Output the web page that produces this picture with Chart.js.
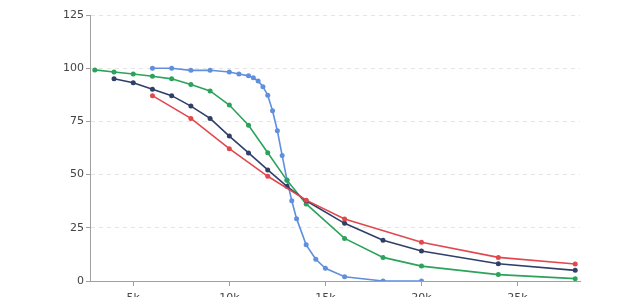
<!DOCTYPE html>
<html><head><meta charset="utf-8">
<script src="https://cdn.jsdelivr.net/npm/chart.js@4/dist/chart.umd.min.js"></script>
<style>html,body{margin:0;padding:0;overflow:hidden;background:#fff;width:640px;height:297px}
#wrap{position:absolute;left:0;top:0;width:640px;height:330px}</style></head>
<body><div id="wrap"><canvas id="c"></canvas></div>
<script>
const xTickValues=[5000,10000,15000,20000,25000];
const xTickLabels=['5k','10k','15k','20k','25k'];
const yTickValues=[0,25,50,75,100,125];
const blueX=[6000,7000,8000,9000,10000,10500,11000,11250,11500,11750,12000,12250,12500,12750,13000,13250,13500,14000,14500,15000,16000,18000,20000];
const blueY=[100,100,99,99,98.2,97.3,96.4,95.5,94,91.3,87.3,80,70.6,59,47.5,37.7,29.3,17,10.2,6,2,0,0];
const greenX=[3000,4000,5000,6000,7000,8000,9000,10000,11000,12000,13000,14000,16000,18000,20000,24000,28000];
const greenY=[99.2,98.2,97.3,96.2,95,92.3,89.3,82.7,73.2,60.3,47.3,36.2,20,11.1,7,3,1.1];
const navyX=[4000,5000,6000,7000,8000,9000,10000,11000,12000,13000,14000,16000,18000,20000,24000,28000];
const navyY=[95,93.2,90.1,87.1,82.2,76.4,68.1,60.2,52.2,44.5,37.7,27.1,19.1,14.1,8.1,5];
const redX=[6000,8000,10000,12000,14000,16000,20000,24000,28000];
const redY=[87.1,76.4,62.2,49.2,38,29.1,18.2,11.1,8];

const pts=(xs,ys)=>xs.map((x,i)=>({x:x,y:ys[i]}));
const mk=(xs,ys,col)=>({data:pts(xs,ys),borderColor:col,backgroundColor:col,borderWidth:1.6,pointRadius:2.5,pointBorderWidth:0,pointHoverRadius:2.5,tension:0,fill:false});
const fontSpec={family:'"DejaVu Sans", sans-serif',size:11};
new Chart(document.getElementById('c'),{
  type:'line',
  data:{datasets:[
    mk(redX,redY,'#e0484e'),
    mk(navyX,navyY,'#2f3f68'),
    mk(greenX,greenY,'#2ba35b'),
    mk(blueX,blueY,'#5f8fdd')
  ]},
  options:{
    responsive:true,maintainAspectRatio:false,animation:false,
    layout:{padding:{left:0,right:60,top:15,bottom:0}},
    plugins:{legend:{display:false},tooltip:{enabled:false}},
    scales:{
      x:{type:'linear',min:2750,max:28250,
        afterBuildTicks:s=>{s.ticks=xTickValues.map(v=>({value:v}));},
        afterFit:s=>{s.height=49;},
        ticks:{font:fontSpec,color:'#444',padding:6,maxRotation:0,autoSkip:false,callback:(v,i)=>xTickLabels[i]},
        grid:{drawOnChartArea:false,drawTicks:true,tickLength:5,tickColor:'#a0a0a0'},
        border:{color:'#a0a0a0',width:1}
      },
      y:{min:0,max:125,
        afterBuildTicks:s=>{s.ticks=yTickValues.map(v=>({value:v}));},
        afterFit:s=>{s.width=90;},
        ticks:{font:fontSpec,color:'#444',padding:2,callback:v=>String(v)},
        grid:{color:c=>(c.tick&&c.tick.value===0)?'rgba(0,0,0,0)':'#e4e4e4',tickColor:'#a0a0a0',tickLength:4,lineWidth:1},
        border:{color:'#a0a0a0',width:1,dash:[4,4]}
      }
    }
  }
});
</script></body></html>
